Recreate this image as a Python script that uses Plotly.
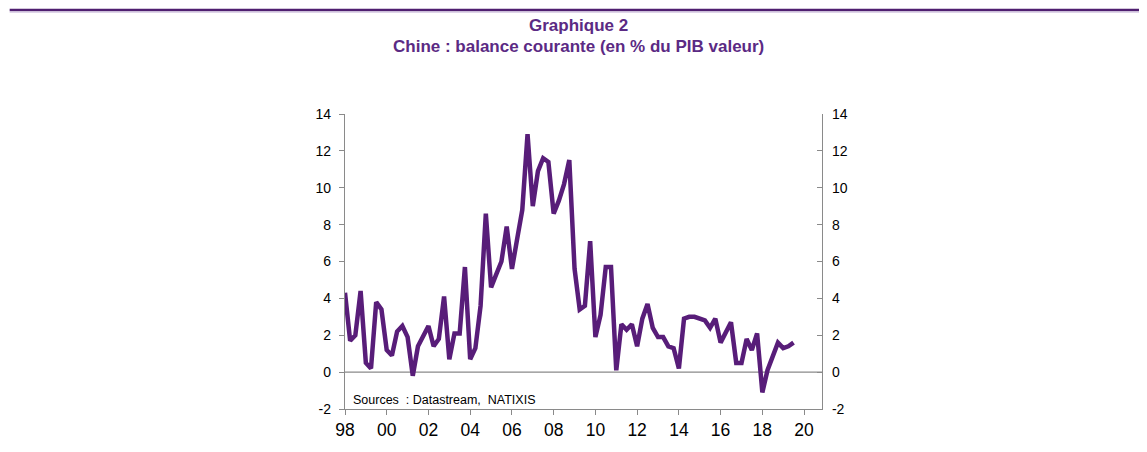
import pandas as pd
import plotly.graph_objects as go

# Quarterly data, 1998Q1 .. 2019Q3
start_quarter = "1998-01-01"
balance = [
    4.3, 1.7, 2.0, 4.4, 0.5, 0.2, 3.8, 3.4,        # 1998-1999
    1.2, 0.9, 2.2, 2.5, 1.9, -0.2, 1.4, 2.0,       # 2000-2001
    2.5, 1.4, 1.8, 4.1, 0.7, 2.1, 2.1, 5.7,        # 2002-2003
    0.7, 1.3, 3.6, 8.6, 4.6, 5.3, 6.0, 7.9,        # 2004-2005
    5.6, 7.2, 8.8, 12.9, 9.0, 10.9, 11.6, 11.4,    # 2006-2007
    8.6, 9.3, 10.2, 11.5, 5.6, 3.4, 3.6, 7.1,      # 2008-2009
    1.9, 3.1, 5.7, 5.7, 0.1, 2.6, 2.3, 2.6,        # 2010-2011
    1.4, 2.9, 3.7, 2.4, 1.9, 1.9, 1.4, 1.3,        # 2012-2013
    0.2, 2.9, 3.0, 3.0, 2.9, 2.8, 2.4, 2.9,        # 2014-2015
    1.6, 2.2, 2.7, 0.5, 0.5, 1.8, 1.2, 2.1,        # 2016-2017
    -1.1, 0.1, 0.8, 1.6, 1.3, 1.4, 1.6,            # 2018-2019Q3
]
tick_years = list(range(1998, 2021, 2))
tick_labels = ["98", "00", "02", "04", "06", "08", "10", "12", "14", "16", "18", "20"]
y_ticks = list(range(-2, 15, 2))
y_tick_labels = ["-2", "0", "2", "4", "6", "8", "10", "12", "14"]

title_line1 = "Graphique 2"
title_line2 = "Chine : balance courante (en % du PIB valeur)"
source_text = "Sources  : Datastream,  NATIXIS"

dates = pd.date_range(start_quarter, periods=len(balance), freq="QS")
tick_dates = [pd.Timestamp(f"{y}-01-01") for y in tick_years]

PURPLE = "#581d79"
TITLE_PURPLE = "#5b2a84"
GREY = "#8a8a8a"
FONT = "Liberation Sans, Arial, sans-serif"

fig = go.Figure()
fig.add_trace(go.Scatter(
    x=dates, y=balance, mode="lines",
    line=dict(color=PURPLE, width=4.5),
    showlegend=False, hoverinfo="x+y",
))
fig.add_trace(go.Scatter(
    x=dates, y=balance, mode="lines", yaxis="y2",
    line=dict(color="rgba(0,0,0,0)", width=0),
    showlegend=False, hoverinfo="skip",
))

axis_common = dict(
    range=[-2, 14], tickvals=y_ticks, ticktext=y_tick_labels,
    showgrid=False, zeroline=False,
    showline=True, linecolor=GREY, linewidth=1.3,
    tickcolor=GREY, ticklen=5, tickwidth=1,
    tickfont=dict(family=FONT, size=14, color="#000000"),
)

# page body has an 8px margin, so the figure is drawn 8px in from the top-left
fig.update_layout(
    width=1139, height=444,
    margin=dict(l=337, r=325, t=106, b=41),
    paper_bgcolor="white", plot_bgcolor="white",
    font=dict(family=FONT),
    xaxis=dict(
        type="date",
        range=[pd.Timestamp("1998-01-01"), pd.Timestamp("2020-11-10")],
        tickvals=tick_dates, ticktext=tick_labels,
        showgrid=False, zeroline=False,
        showline=True, linecolor=GREY, linewidth=1.3,
        ticks="outside", tickcolor=GREY, ticklen=5, tickwidth=1,
        tickfont=dict(family=FONT, size=17.5, color="#000000"),
    ),
    yaxis=dict(side="left", ticks="outside", ticklabelstandoff=5, **axis_common),
    yaxis2=dict(side="right", overlaying="y", ticks="inside", ticklabelstandoff=6,
                anchor="x", **axis_common),
    shapes=[
        dict(type="line", xref="paper", yref="y", x0=0, x1=1, y0=0, y1=0,
             line=dict(color=GREY, width=1.3), layer="below"),
        dict(type="line", xref="paper", yref="paper", x0=-0.703, x1=1.667,
             y0=1.3525, y1=1.3525, line=dict(color="#4f1f70", width=2.5)),
        dict(type="line", xref="paper", yref="paper", x0=-0.703, x1=1.667,
             y0=1.3455, y1=1.3455, line=dict(color="#c4b3d6", width=1)),
    ],
    annotations=[
        dict(text=title_line1, xref="paper", yref="paper", x=0.49, y=1.299,
             xanchor="center", yanchor="middle", showarrow=False,
             font=dict(family=FONT, size=17, color=TITLE_PURPLE, weight="bold")),
        dict(text=title_line2, xref="paper", yref="paper", x=0.49, y=1.229,
             xanchor="center", yanchor="middle", showarrow=False,
             font=dict(family=FONT, size=17, color=TITLE_PURPLE, weight="bold")),
        dict(text=source_text, xref="paper", yref="paper", x=0.013, y=0.03,
             xanchor="left", yanchor="middle", showarrow=False,
             font=dict(family=FONT, size=12.5, color="#000000")),
    ],
)

fig.write_html("out.html")
